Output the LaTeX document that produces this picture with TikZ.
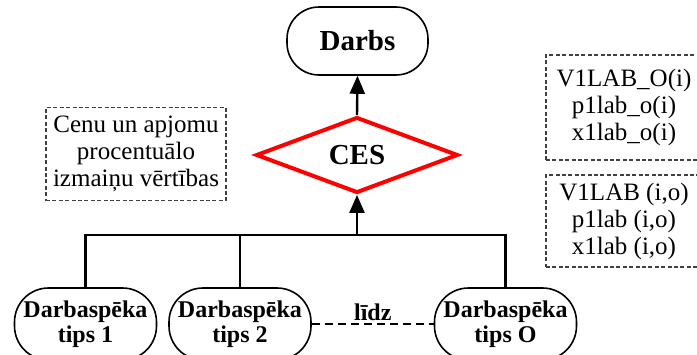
\documentclass[tikz,border=0pt]{standalone}
\usepackage{fontspec}
\setmainfont{Liberation Serif}
\usetikzlibrary{arrows.meta,positioning,shapes.geometric}

\begin{document}
\begin{tikzpicture}[x=0.5pt, y=-0.5pt,
    box/.style={draw, line width=0.8pt, rounded corners=16pt, align=center},
    worker/.style={box, rounded corners=17pt, minimum width=71pt, minimum height=36pt, inner sep=0pt,
      font=\bfseries\fontsize{12}{12.5}\selectfont},
    note/.style={draw=black!75, dash pattern=on 2pt off 1.2pt, line width=0.6pt,
      align=center, inner sep=0pt, font=\fontsize{12.5}{13.5}\selectfont},
    link/.style={line width=1.2pt},
    up/.style={link, -{Triangle[length=9pt, width=7.5pt]}}]
  \useasboundingbox (0,0) rectangle (697,354);

  % Top of the tree
  \node[box, minimum width=70.5pt, minimum height=34pt,
    font=\bfseries\fontsize{14.5}{16}\selectfont] (darbs) at (357.5,41) {Darbs};
  \node[diamond, draw=red, line width=2pt, minimum width=101pt, minimum height=33pt,
    inner sep=0pt, font=\bfseries\fontsize{14.5}{16}\selectfont] (ces) at (357,155) {CES};

  % Labour types
  \node[worker] (t1) at (85.5,324) {Darbaspēka\\tips 1};
  \node[worker] (t2) at (240,324) {Darbaspēka\\tips 2};
  \node[worker] (tO) at (505.5,324) {Darbaspēka\\tips O};

  % Notes
  \node[note, minimum width=90pt, minimum height=46.5pt] (pct) at (136,154)
    {Cenu un apjomu\\procentuālo\\izmaiņu vērtības};
  \node[note, minimum width=78pt, minimum height=52.5pt] (vo) at (624,107.5)
    {V1LAB\_O(i)\\p1lab\_o(i)\\x1lab\_o(i)};
  \node[note, minimum width=78pt, minimum height=46pt] (vio) at (624,221)
    {V1LAB (i,o)\\p1lab (i,o)\\x1lab (i,o)};

  % Connectors
  \coordinate (hub) at (357,235);
  \draw[up] (ces.north) -- (darbs.south);
  \draw[up] (hub) -- (ces.south);
  \draw[link] (t1.north) |- (hub) -| (tO.north);
  \draw[link] (t2.north) -- (t2.north |- hub);
  \draw[line width=0.8pt, dash pattern=on 4pt off 2.5pt] (t2.east) -- (tO.west)
    node[midway, above, inner sep=1pt, font=\bfseries\fontsize{12}{12.5}\selectfont] (lidz) {līdz};
\end{tikzpicture}
\end{document}
